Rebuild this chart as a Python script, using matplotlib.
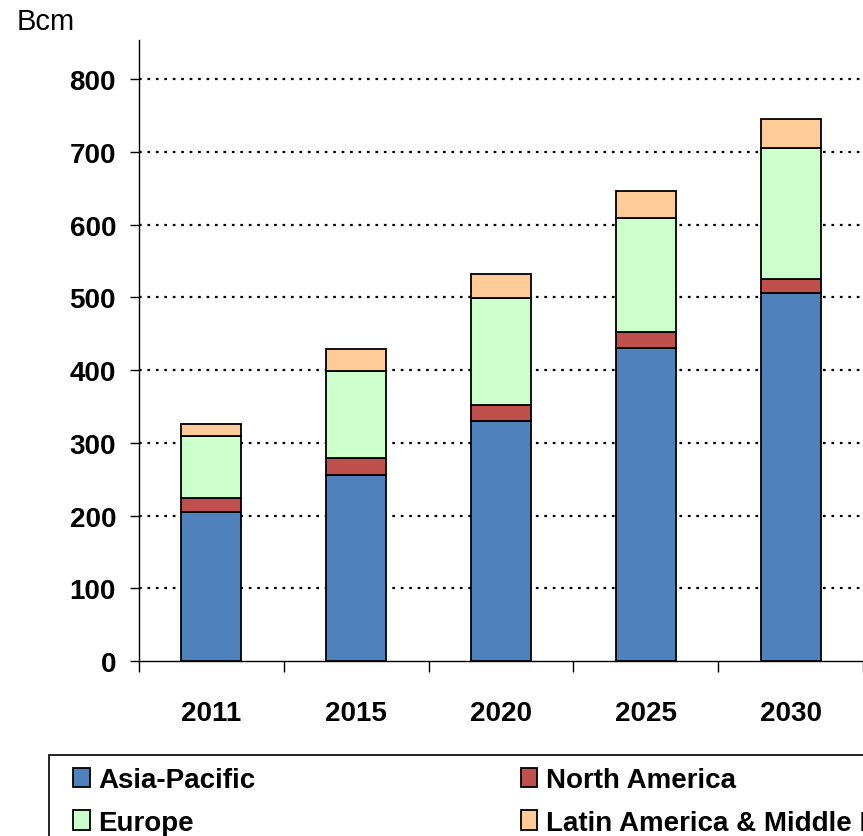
import matplotlib.pyplot as plt
from matplotlib.patches import Rectangle
import numpy as np

plt.rcParams['font.family'] = ['Liberation Sans', 'DejaVu Sans']

years = ['2011', '2015', '2020', '2025', '2030']
asia_pacific = [205, 256, 330, 431, 506]
north_america = [19, 23, 22, 21, 20]
europe = [85, 120, 147, 157, 180]
latin_me = [17, 30, 33, 37, 40]

series = [
    ('Asia-Pacific', asia_pacific, '#4F81BD'),
    ('North America', north_america, '#C0504D'),
    ('Europe', europe, '#CCFFCC'),
    ('Latin America & Middle East', latin_me, '#FFCC99'),
]

fig = plt.figure(figsize=(8.63, 8.37), dpi=100)
ax = fig.add_axes([139/863, 1-662/837, 1-139/863, (662-41)/837])

x = np.arange(len(years))
bottom = np.zeros(len(years))
handles = {}
for name, vals, col in series:
    b = ax.bar(x, vals, width=0.415, bottom=bottom, color=col,
               edgecolor='black', linewidth=1.3, zorder=3, label=name)
    handles[name] = b
    bottom += np.array(vals)

ax.set_xlim(-0.5, 4.5)
ax.set_ylim(0, 854)
ax.set_yticks(range(0, 900, 100))
ax.set_xticks(x)
ax.set_xticklabels(years)
ax.set_xticks(np.arange(-0.5, 5, 1), minor=True)
ax.tick_params(axis='x', which='major', length=0, pad=28, labelsize=20)
ax.tick_params(axis='x', which='minor', length=8, width=1, direction='out')
ax.tick_params(axis='y', length=6.5, width=1, pad=10, labelsize=20)
for lab in ax.get_xticklabels() + ax.get_yticklabels():
    lab.set_fontweight('bold')

for v in range(100, 900, 100):
    ax.axhline(v, color='black', linestyle=(0, (1.2, 2.6)), linewidth=1.6, zorder=1)

for s in ['top', 'right']:
    ax.spines[s].set_visible(False)
ax.spines['left'].set_linewidth(1)
ax.spines['bottom'].set_linewidth(1)

fig.text(17/863, 1-22/837, 'Bcm', fontsize=21, va='center', ha='left')

# legend frame runs off the right and bottom edges, like the original
fig.patches.append(Rectangle((49/863, -0.05), 1.0, 0.05 + 1-756/837,
                             transform=fig.transFigure, fill=False,
                             edgecolor='black', linewidth=1.2))

order = ['Asia-Pacific', 'Europe', 'North America', 'Latin America & Middle East']
leg = fig.legend([handles[n] for n in order], order, loc='upper left',
                 bbox_to_anchor=(73/863, 1-768/837), ncol=2, frameon=False,
                 prop={'weight': 'bold', 'size': 20}, handlelength=0.6,
                 handleheight=0.7, handletextpad=0.3, columnspacing=9.55,
                 labelspacing=0.6, borderpad=0, borderaxespad=0)

fig.savefig('out.png', dpi=100)
